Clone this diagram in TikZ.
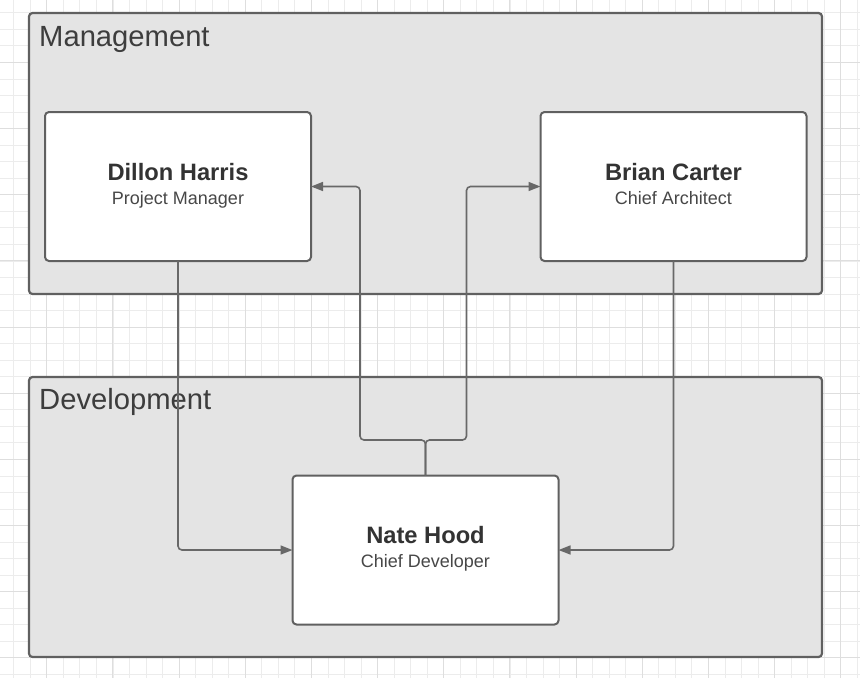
\documentclass[tikz,border=0pt]{standalone}
\usepackage{fontspec}
\setmainfont{Liberation Sans}
\usetikzlibrary{arrows.meta}
\definecolor{gridminor}{RGB}{236,236,236}
\definecolor{gridmajor}{RGB}{222,222,222}
\definecolor{groupfill}{RGB}{228,228,228}
\definecolor{edge}{RGB}{96,96,96}
\definecolor{ink}{RGB}{51,51,51}
\tikzset{
  group/.style={draw=edge, line width=2.2pt, fill=groupfill, rounded corners=3.5pt, inner sep=0pt, outer sep=0pt},
  grouptitle/.style={anchor=base west, inner sep=0pt, text=ink!95, font=\fontsize{29.2}{31}\selectfont},
  person/.style={draw=edge, line width=2pt, fill=white, rounded corners=4pt, minimum width=266pt, minimum height=149pt, inner sep=0pt, outer sep=0pt},
  who/.style={anchor=base, inner sep=0pt, text=ink, font=\bfseries\fontsize{23.7}{24}\selectfont},
  role/.style={anchor=base, inner sep=0pt, text=ink!90, font=\fontsize{18}{20}\selectfont},
  conn/.style={draw=edge!95, line width=1.6pt, rounded corners=4pt, -{Triangle[length=12pt,width=9pt]}}
}
\begin{document}
\begin{tikzpicture}[x=1pt, y=-1pt]
\useasboundingbox (0,0) rectangle (860,678);
% background grid
\foreach \i in {0,...,51} \draw[gridminor, line width=0.8pt] ({13.7+16.54*\i},0) -- ++(0,678);
\foreach \i in {0,...,40} \draw[gridminor, line width=0.8pt] (0,{12.8+16.54*\i}) -- ++(860,0);
\foreach \i in {0,...,12} \draw[gridmajor, line width=0.8pt] ({46.7+66.16*\i},0) -- ++(0,678);
\foreach \i in {0,...,9} \draw[gridmajor, line width=0.8pt] (0,{62.4+66.16*\i}) -- ++(860,0);
% groups
\node[group, minimum width=793pt, minimum height=281pt] (mgmt) at (425.5,153.5) {};
\node[group, minimum width=793pt, minimum height=280pt] (dev) at (425.5,517) {};
\node[grouptitle] (mgmt-title) at (39,46.7) {Management};
\node[grouptitle] (dev-title) at (39,409.5) {Development};
% people
\foreach \n/\x/\y/\name/\job in {dillon/178/186.5/Dillon Harris/Project Manager, brian/673.5/186.5/Brian Carter/Chief Architect, nate/425.5/550/Nate Hood/Chief Developer}{
  \node[person] (\n) at (\x,\y) {};
  \node[who] (\n-name) at ([yshift=6.5pt]\n.center) {\name};
  \node[role] (\n-role) at ([yshift=-17.5pt]\n.center) {\job};
}
% reporting lines
\coordinate (split) at (425.5,440);
\draw[conn] (dillon.south) |- (nate.west);
\draw[conn] (brian.south) |- (nate.east);
\draw[conn] (nate.north) -- (split) -| ([xshift=49pt]dillon.east) -- (dillon.east);
\draw[conn] (nate.north) -- (split) -| ([xshift=-74pt]brian.west) -- (brian.west);
\end{tikzpicture}
\end{document}
